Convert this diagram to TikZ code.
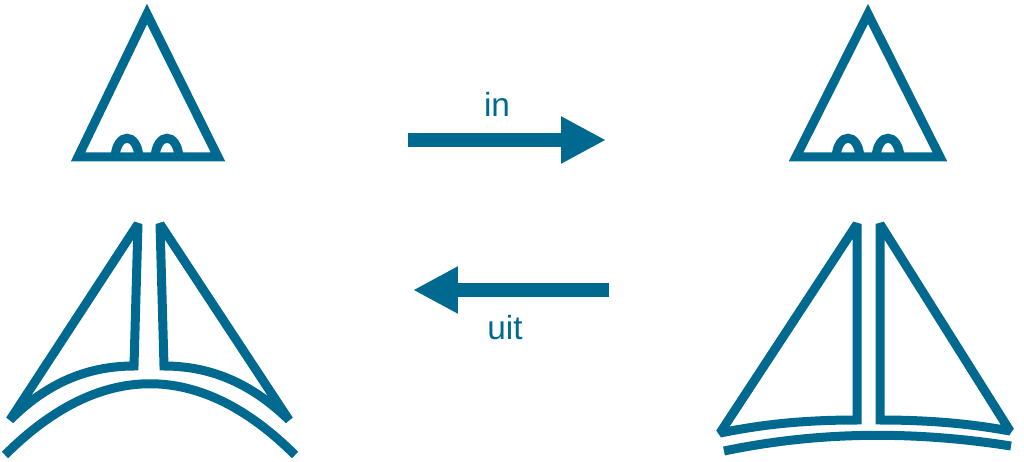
\documentclass[tikz,border=0pt]{standalone}
\usepackage{fontspec}
\setmainfont{Liberation Sans}
\usetikzlibrary{positioning, arrows.meta}
\definecolor{sailblue}{HTML}{00698F}

\begin{document}
\begin{tikzpicture}[
    x=0.02cm, y=-0.02cm,
    thin/.style={draw=sailblue, line width=0.18cm, line join=miter, miter limit=4},
    sail/.style={thin, miter limit=1.5},
    bigarrow/.style={draw=sailblue, line width=0.28cm, -{Triangle[length=0.9cm, width=0.88cm]}},
    label/.style={text=sailblue, font=\fontsize{19}{21}\selectfont, inner sep=0pt}
]
\useasboundingbox (0,0) rectangle (1024,462);

% Top triangles with two bumps
\draw[thin] (147,14) -- (218,157) -- (78,157) -- cycle;
\draw[thin] (115,157) .. controls (117,132) and (137,132) .. (139,157);
\draw[thin] (155,157) .. controls (157,132) and (177,132) .. (179,157);

\draw[thin] (868,14) -- (940,157) -- (796,157) -- cycle;
\draw[thin] (836,157) .. controls (838,132) and (858,132) .. (860,157);
\draw[thin] (876,157) .. controls (878,132) and (898,132) .. (900,157);

% Bottom left: sails over a bent keel
\draw[sail] (138,224) -- (134,366) .. controls (85,366) and (45,385) .. (10,420) -- cycle;
\draw[sail] (160,224) -- (164,366) .. controls (213,366) and (253,385) .. (289,420) -- cycle;
\draw[thin] (5,455) .. controls (100,360) and (200,360) .. (295,455);

% Bottom right: sails over a flat keel
\draw[sail] (857,224) -- (857,420) .. controls (800,420) and (760,425) .. (720,433) -- cycle;
\draw[sail] (880,224) -- (880,420) .. controls (937,420) and (977,425) .. (1010,431) -- cycle;
\draw[thin] (724,451) .. controls (820,431) and (915,431) .. (1011,446);

% Arrows
\coordinate (inA) at (408,140);
\coordinate (inB) at (606,140);
\coordinate (uitA) at (609,290);
\coordinate (uitB) at (413,290);
\draw[bigarrow] (inA) -- (inB);
\draw[bigarrow] (uitA) -- (uitB);
\node[label] (inlabel) at (497,104) {in};
\node[label] (uitlabel) at (505,328) {uit};

\end{tikzpicture}
\end{document}
